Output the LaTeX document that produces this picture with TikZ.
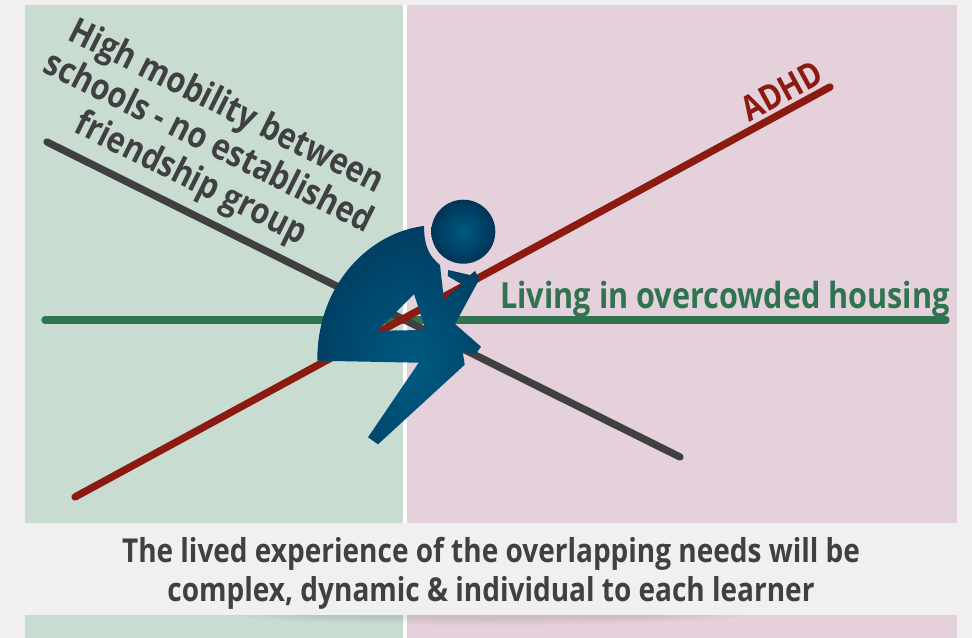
\documentclass[tikz,border=0pt]{standalone}
\usepackage{fontspec}
\setmainfont{Open Sans}[FakeStretch=0.85]
\definecolor{pagebg}{HTML}{F0F0F0}
\definecolor{greenpanel}{HTML}{C9DCD2}
\definecolor{pinkpanel}{HTML}{E5D1DC}
\definecolor{txtgray}{HTML}{404040}
\definecolor{lnred}{HTML}{8B1A10}
\definecolor{lngreen}{HTML}{2F7350}
\definecolor{figin}{HTML}{005A82}
\definecolor{figout}{HTML}{003557}
\pgfdeclareradialshading{figshade}{\pgfpoint{4bp}{-8bp}}{color(0bp)=(figin);color(40bp)=(figout);color(100bp)=(figout)}
\pgfdeclareradialshading{headshade}{\pgfpoint{0bp}{0bp}}{color(0bp)=(figin);color(25bp)=(figout);color(100bp)=(figout)}
\tikzset{
  lineitem/.style={line width=5.5pt,line cap=round},
  lbl/.style={font=\bfseries,inner sep=0pt,align=center},
  figfill/.style={shading=figshade},
}
\begin{document}
\begin{tikzpicture}[x=0.75pt,y=-0.75pt]
\useasboundingbox (0,0) rectangle (972,638);
\fill[pagebg] (0,0) rectangle (972,638);
% panels
\fill[greenpanel] (25,5) rectangle (403,523);
\fill[pinkpanel] (407,5) rectangle (957,523);
\fill[white] (403,5) rectangle (407,523);
\begin{scope}
\clip (25,615) rectangle (957,638);
\fill[greenpanel] (25,615) rectangle (403,638);
\fill[pinkpanel] (407,615) rectangle (957,638);
\fill[white] (403,615) rectangle (407,638);
\foreach \r/\h in {250/10,225/8,200/6,175/4}{
  \fill[black,opacity=0.025] (490,615) ellipse ({\r} and {\h});
}
\end{scope}
% coordinates for the line ends
\coordinate (grayA) at (47,142);
\coordinate (grayB) at (680,457);
\coordinate (redA) at (75,497);
\coordinate (redB) at (830,87);
\coordinate (greenA) at (45,320);
\coordinate (greenB) at (946,320);
\draw[lineitem,lngreen] (greenA) -- (greenB);
\draw[lineitem,txtgray] (grayA) -- (grayB);
\draw[lineitem,lnred] (redA) -- (redB);
% seated figure
\path[figfill,even odd rule]
  (424,226) .. controls (372,232) and (317,282) .. (317.3,360.7)
  -- (418.7,362.7) -- (368,437.3) -- (378,444.3) -- (464.7,364.7)
  -- (462.7,351.7) -- (475.7,354.3) -- (481,346.7) -- (455,324)
  -- (479.3,279.3) -- (475,271) -- (470,275) -- (448.3,270) -- (447.7,276)
  -- (461.7,284.3) -- (444,300) -- (440,265)
  .. controls (432,258) and (424,250) .. (424,226) -- cycle
  (414,294) -- (377.5,330.7) -- (425.7,330) -- cycle;
\path[shading=headshade] (463.3,231.7) circle (32);
% labels
\node[lbl,txtgray,rotate=-26.5,font=\bfseries\fontsize{27pt}{30pt}\selectfont] (mob) at (208,144) {High mobility between\\schools - no established\\friendship group};
\node[lbl,lnred,rotate=28.5,font=\bfseries\fontsize{26pt}{30pt}\selectfont] (adhd) at (782,91) {ADHD};
\node[lbl,lngreen,font=\bfseries\fontsize{27pt}{30pt}\selectfont] (live) at (725,299) {Living in overcowded housing};
\node[lbl,txtgray,font=\bfseries\fontsize{24.7pt}{29.3pt}\selectfont] (cap) at (491,573) {The lived experience of the overlapping needs will be\\complex, dynamic \& individual to each learner};
\end{tikzpicture}
\end{document}
